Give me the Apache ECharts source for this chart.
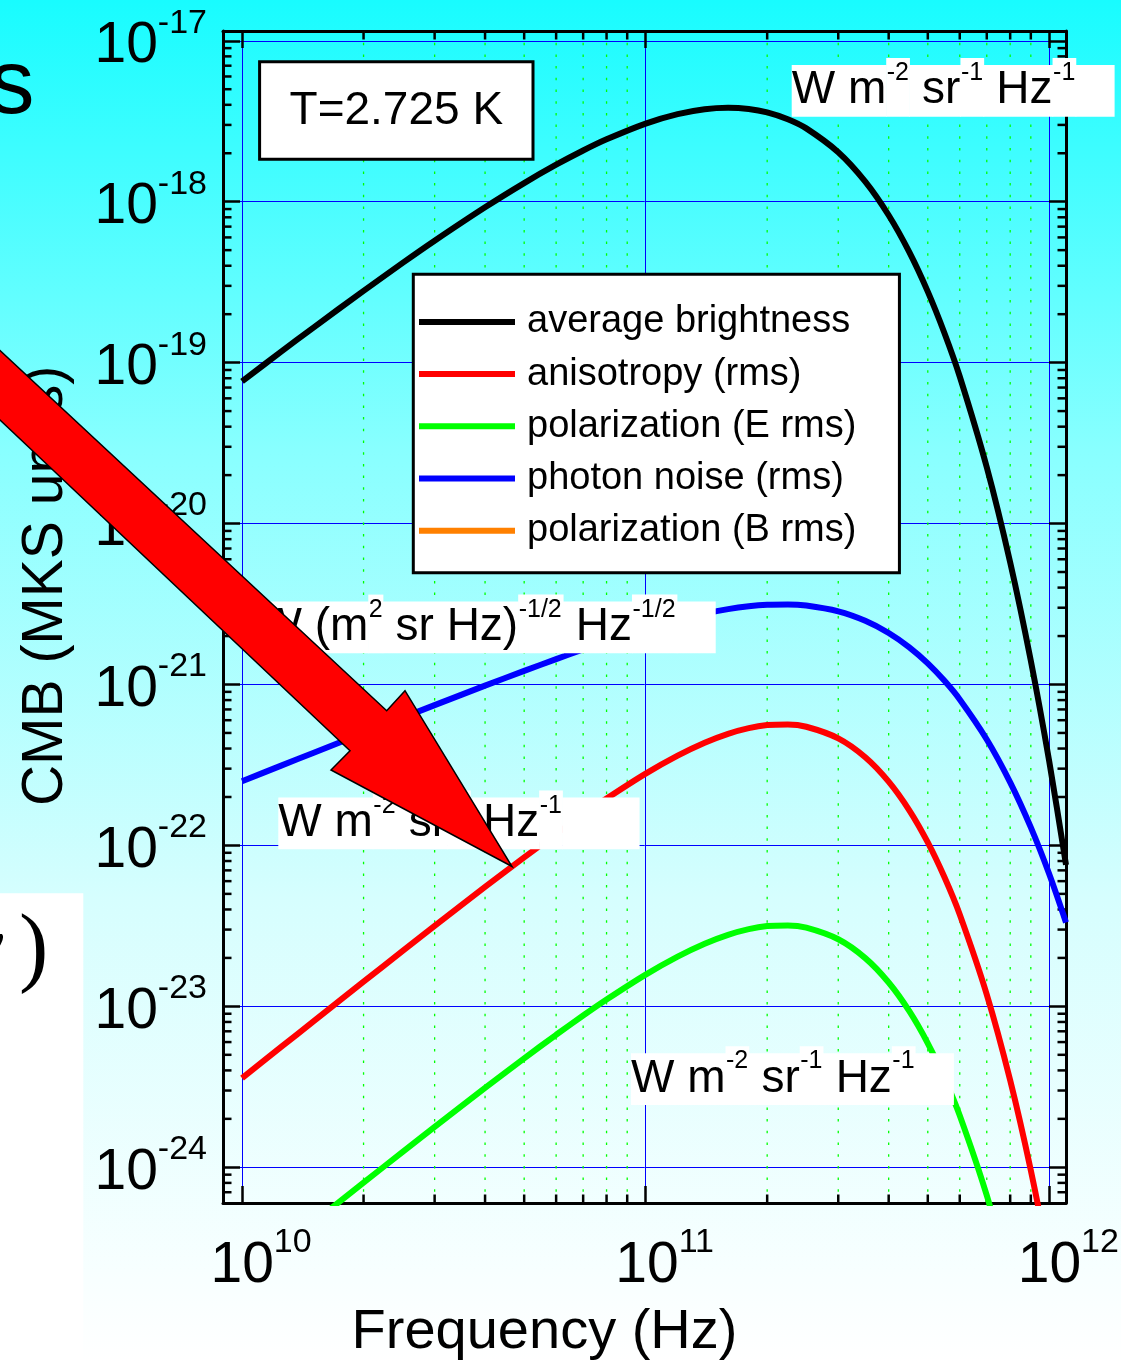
<!DOCTYPE html>
<html>
<head>
<meta charset="utf-8">
<script src="https://cdn.jsdelivr.net/npm/echarts@6/dist/echarts.min.js"></script>
<style>
html,body{margin:0;padding:0;}
#c{width:1121px;height:1362px;background:linear-gradient(to bottom, rgb(24,252,255) 0%, rgb(136,255,255) 33%, rgb(214,254,254) 66%, rgb(248,255,255) 94%, #ffffff 100%);}
</style>
</head>
<body>
<div id="c"></div>
<script>
// ---------------- data ----------------
const frequencyHz = [1e10, 1.25e10, 1.5e10, 2e10, 2.5e10, 3e10, 4e10, 5e10, 6e10, 7e10, 8e10,
  1e11, 1.2e11, 1.4e11, 1.6e11, 1.8e11, 2e11, 2.25e11, 2.5e11, 3e11, 3.5e11, 4e11, 4.5e11,
  5e11, 5.5e11, 6e11, 7e11, 8e11, 9e11, 1e12, 1.1e12];

const averageBrightness = [7.657e-20, 1.1694e-19, 1.6458e-19, 2.7937e-19, 4.1648e-19, 5.7189e-19,
  9.2263e-19, 1.3049e-18, 1.6968e-18, 2.0804e-18, 2.4420e-18, 3.0593e-18, 3.5013e-18, 3.7562e-18,
  3.8366e-18, 3.7697e-18, 3.5891e-18, 3.2550e-18, 2.8550e-18, 2.0304e-18, 1.3325e-18, 8.2354e-19,
  4.8582e-19, 2.7620e-19, 1.5238e-19, 8.2003e-20, 2.2376e-20, 5.7396e-21, 1.4043e-21, 3.3101e-22, 7.5708e-23];

const anisotropyRms = [3.586e-24, 5.594e-24, 8.041e-24, 1.4232e-23, 2.2107e-23, 3.1610e-23,
  5.5194e-23, 8.4271e-23, 1.1801e-22, 1.5542e-22, 1.9551e-22, 2.7935e-22, 3.6138e-22, 4.3463e-22,
  4.9368e-22, 5.3561e-22, 5.5933e-22, 5.6456e-22, 5.4644e-22, 4.6296e-22, 3.5343e-22, 2.4932e-22,
  1.6538e-22, 1.0444e-22, 6.3379e-23, 3.7208e-23, 1.1845e-23, 3.4722e-24, 9.557e-25, 2.503e-25, 6.298e-26];

const polarizationERms = [2.023e-25, 3.156e-25, 4.536e-25, 8.028e-25, 1.2471e-24, 1.7831e-24,
  3.1135e-24, 4.7537e-24, 6.6568e-24, 8.7674e-24, 1.1029e-23, 1.5758e-23, 2.0386e-23, 2.4518e-23,
  2.7849e-23, 3.0214e-23, 3.1552e-23, 3.1847e-23, 3.0825e-23, 2.6116e-23, 1.9937e-23, 1.4064e-23,
  9.3293e-24, 5.8917e-24, 3.5752e-24, 2.0989e-24, 6.6815e-25, 1.9587e-25, 5.391e-26, 1.420e-26, 3.55e-27];

const photonNoiseRms = [2.5069e-22, 3.1310e-22, 3.7538e-22, 4.9941e-22, 6.2243e-22, 7.4429e-22,
  9.8349e-22, 1.2153e-21, 1.4381e-21, 1.6504e-21, 1.8510e-21, 2.2126e-21, 2.5166e-21, 2.7599e-21,
  2.9414e-21, 3.0637e-21, 3.1308e-21, 3.1454e-21, 3.0945e-21, 2.8484e-21, 2.4887e-21, 2.0903e-21,
  1.7024e-21, 1.3529e-21, 1.0539e-21, 8.0749e-22, 4.5560e-22, 2.4668e-22, 1.2942e-22, 6.6231e-23, 3.3221e-23];

// B-mode curve lies entirely below the visible range (not visible in the picture)
const polarizationBRms = [2.44e-27, 3.80e-27, 5.47e-27, 9.68e-27, 1.50e-26, 2.15e-26, 3.75e-26,
  5.73e-26, 8.02e-26, 1.057e-25, 1.329e-25, 1.900e-25, 2.457e-25, 2.955e-25, 3.357e-25, 3.642e-25,
  3.803e-25, 3.839e-25, 3.716e-25, 3.148e-25, 2.403e-25, 1.695e-25, 1.125e-25, 7.10e-26, 4.31e-26,
  2.53e-26, 8.05e-27, 2.36e-27, 6.5e-28, 1.7e-28, 4.3e-29];

const seriesNames = ['average brightness', 'anisotropy (rms)', 'polarization (E rms)',
  'photon noise (rms)', 'polarization (B rms)'];
const seriesColors = ['#000000', '#ff0000', '#00ff00', '#0000ff', '#ff8000'];

const xTickExponents = ['10', '11', '12'];
const yTickExponents = ['-24', '-23', '-22', '-21', '-20', '-19', '-18', '-17'];
const minorMultipliers = [2, 3, 4, 5, 6, 7, 8, 9];
const xMinorDecades = [10, 11];
const yMinorDecades = [-25, -24, -23, -22, -21, -20, -19, -18];

const X_MIN = 8.97e9, X_MAX = 1.1e12;
const Y_MIN = 6e-25, Y_MAX = 1.15e-17;

// ---------------- helpers ----------------
const FONT = '"Liberation Sans", Arial, Helvetica, sans-serif';
const mctx = document.createElement('canvas').getContext('2d');
function textWidth(t, size) { mctx.font = size + 'px ' + FONT; return mctx.measureText(t).width; }
const MID = 0.3465;

function decadeExp(v, list) {
  const l = Math.log10(v);
  const e = Math.round(l);
  if (Math.abs(l - e) > 1e-6) return null;
  const s = String(e);
  return list.indexOf(s) >= 0 ? s : null;
}

const xMinorValues = [];
xMinorDecades.forEach(d => minorMultipliers.forEach(m => xMinorValues.push(m * Math.pow(10, d))));
const yMinorValues = [];
yMinorDecades.forEach(d => minorMultipliers.forEach(m => {
  const v = m * Math.pow(10, d);
  if (v > Y_MIN * 1.001 && v < Y_MAX) yMinorValues.push(v);
}));

function unitLabel(x0, base, segs) {
  const els = [];
  let x = x0;
  segs.forEach(([t, sup]) => {
    const fs = sup ? 26 : 46;
    const w = textWidth(t, fs);
    const top = sup ? base - 48.7 : base - 41.7;
    els.push({type: 'rect', z: 10, silent: true,
      shape: {x: x, y: top, width: w + 0.6, height: base + 10 - top},
      style: {fill: '#ffffff', lineWidth: 0}});
    if (t.trim()) {
      const dfs = sup ? 25 : 46;
      const bl = sup ? base - 25 : base;
      els.push({type: 'text', z: 11, silent: true, x: x + (sup ? 0.5 : 0), y: bl - MID * dfs,
        style: {text: t, font: dfs + 'px ' + FONT, fill: '#000', textAlign: 'left', align: 'left',
          textVerticalAlign: 'middle', verticalAlign: 'middle'}});
    }
    x += w;
  });
  return els;
}

const pairs = arr => frequencyHz.map((f, i) => [f, arr[i]]);
const seriesData = [averageBrightness, anisotropyRms, polarizationERms, photonNoiseRms, polarizationBRms];

const lineSeries = seriesNames.map((name, i) => ({
  name: name, type: 'line', data: pairs(seriesData[i]), symbol: 'none', showSymbol: false,
  smooth: 0.3, clip: true, silent: true, z: 3,
  lineStyle: {color: seriesColors[i], width: 6},
  itemStyle: {color: seriesColors[i]}
}));

const tickStyle = {color: '#000', width: 2.5};
const axisLineStyle = {show: true, onZero: false, lineStyle: {color: '#000', width: 3}};

const xRich = {
  p: {width: 38, fontSize: 34, fontFamily: FONT},
  b: {fontSize: 57, lineHeight: 69, verticalAlign: 'bottom', color: '#000', fontFamily: FONT},
  s: {fontSize: 34, lineHeight: 34, verticalAlign: 'top', color: '#000', fontFamily: FONT}
};
const yRich = {
  b: {fontSize: 57, lineHeight: 69, verticalAlign: 'bottom', color: '#000', fontFamily: FONT},
  s: {fontSize: 34, lineHeight: 34, verticalAlign: 'top', color: '#000', fontFamily: FONT}
};

const graphicEls = [];
// white block bottom-left (part of the slide)
graphicEls.push({type: 'rect', z: 0, silent: true, shape: {x: 0, y: 893.3, width: 83.3, height: 470}, style: {fill: '#ffffff'}});
// slide fragments at the left
graphicEls.push({type: 'text', z: 1, silent: true, x: -11, y: 119 - MID * 91,
  style: {text: 's', font: '91px ' + FONT, fill: '#000', textAlign: 'left', align: 'left', textVerticalAlign: 'middle', verticalAlign: 'middle'}});
graphicEls.push({type: 'text', z: 1, silent: true, x: -36, y: 952,
  style: {text: 'ν', font: 'italic 88px "Liberation Serif", "DejaVu Serif", serif', fill: '#000', textAlign: 'left', align: 'left', textVerticalAlign: 'middle', verticalAlign: 'middle'}});
graphicEls.push({type: 'text', z: 1, silent: true, x: 19, y: 952,
  style: {text: ')', font: '88px "Liberation Serif", "DejaVu Serif", serif', fill: '#000', textAlign: 'left', align: 'left', textVerticalAlign: 'middle', verticalAlign: 'middle'}});
// temperature box
graphicEls.push({type: 'rect', z: 10, silent: true, shape: {x: 259.6, y: 61.7, width: 273.4, height: 97.6},
  style: {fill: '#ffffff', stroke: '#000', lineWidth: 3}});
graphicEls.push({type: 'text', z: 11, silent: true, x: 396.3, y: 111,
  style: {text: 'T=2.725 K', font: '46px ' + FONT, fill: '#000', textAlign: 'center', align: 'center', textVerticalAlign: 'middle', verticalAlign: 'middle'}});
// unit labels
graphicEls.push(...unitLabel(791.7, 106.7, [['W m', 0], ['-2', 1], [' sr', 0], ['-1', 1], [' Hz', 0], ['-1', 1], ['   ', 0]]));
graphicEls.push(...unitLabel(368.3 - textWidth('W (m', 46), 643.3, [['W (m', 0], ['2', 1], [' sr Hz)', 0], ['-1/2', 1], [' Hz', 0], ['-1/2', 1], ['   ', 0]]));
graphicEls.push(...unitLabel(278.3, 839.3, [['W m', 0], ['-2', 1], [' sr', 0], ['-1', 1], [' Hz', 0], ['-1', 1], ['      ', 0]]));
graphicEls.push(...unitLabel(631, 1095, [['W m', 0], ['-2', 1], [' sr', 0], ['-1', 1], [' Hz', 0], ['-1', 1], ['   ', 0]]));
// red arrow
graphicEls.push({type: 'polygon', z: 30, silent: true,
  shape: {points: [[-10, 341.2], [386.7, 710.7], [405, 690.7], [512, 866.5], [331, 770], [350, 750.7], [-10, 410.6]]},
  style: {fill: '#ff0000', stroke: '#000', lineWidth: 1.5, lineJoin: 'miter'}});

const option = {
  animation: false,
  backgroundColor: 'transparent',
  grid: {left: 223, top: 31, right: 1121 - 1066, bottom: 1362 - 1203, containLabel: false, outerBoundsMode: 'none'},
  legend: {
    data: seriesNames, orient: 'vertical', left: 413.3, top: 274.3,
    padding: [27.6, 43, 22, 5.7], itemWidth: 96, itemHeight: 6, itemGap: 12.2, icon: 'rect',
    backgroundColor: '#ffffff', borderColor: '#000', borderWidth: 3, borderRadius: 0,
    selectedMode: false,
    textStyle: {fontSize: 38, color: '#000', fontFamily: FONT, lineHeight: 40, padding: [0, 0, 0, 7]}
  },
  xAxis: [
    {type: 'log', logBase: 10, min: X_MIN, max: X_MAX, position: 'bottom',
      name: 'Frequency (Hz)', nameLocation: 'middle', nameGap: 102, nameMoveOverlap: false,
      nameTextStyle: {fontSize: 56, color: '#000', fontFamily: FONT, padding: [0, 200, 0, 0]},
      axisLine: axisLineStyle,
      axisTick: {show: true, inside: true, length: 17, lineStyle: tickStyle},
      axisLabel: {show: true, margin: 23, hideOverlap: false, rich: xRich,
        formatter: v => { const e = decadeExp(v, xTickExponents); return e ? '{p| }{b|10}{s|' + e + '}' : ''; }},
      splitLine: {show: true, showMinLine: false, showMaxLine: false, lineStyle: {color: '#0000ff', width: 1}},
      minorTick: {show: false}, minorSplitLine: {show: false}},
    {type: 'log', logBase: 10, min: X_MIN, max: X_MAX, position: 'top',
      axisLine: axisLineStyle,
      axisTick: {show: true, inside: true, length: 17, lineStyle: tickStyle},
      axisLabel: {show: false}, splitLine: {show: false}}
  ],
  yAxis: [
    {type: 'log', logBase: 10, min: Y_MIN, max: Y_MAX, position: 'left',
      name: 'CMB (MKS units)', nameLocation: 'middle', nameGap: 148, nameRotate: 90, nameMoveOverlap: false,
      nameTextStyle: {fontSize: 57, color: '#000', fontFamily: FONT, padding: [0, 0, 0, 62]},
      axisLine: axisLineStyle,
      axisTick: {show: true, inside: true, length: 17, lineStyle: tickStyle},
      axisLabel: {show: true, margin: 16, hideOverlap: false, rich: yRich,
        formatter: v => { const e = decadeExp(v, yTickExponents); return e ? '{b|10}{s|' + e + '}' : ''; }},
      splitLine: {show: true, showMinLine: false, showMaxLine: false, lineStyle: {color: '#0000ff', width: 1}},
      minorTick: {show: false}, minorSplitLine: {show: false}},
    {type: 'log', logBase: 10, min: Y_MIN, max: Y_MAX, position: 'right',
      axisLine: axisLineStyle,
      axisTick: {show: true, inside: true, length: 17, lineStyle: tickStyle},
      axisLabel: {show: false}, splitLine: {show: false}}
  ],
  series: [
    {type: 'custom', name: 'x minor', silent: true, z: 1, clip: false,
      data: xMinorValues.map(v => [v, 1e-20]),
      renderItem: (params, api) => {
        const cs = params.coordSys;
        const x = api.coord([api.value(0), api.value(1)])[0];
        const top = cs.y, bot = cs.y + cs.height;
        return {type: 'group', children: [
          {type: 'line', shape: {x1: x, y1: top, x2: x, y2: bot}, style: {stroke: '#00ff00', lineWidth: 1.3, lineDash: [2.5, 9.2]}},
          {type: 'line', shape: {x1: x, y1: bot, x2: x, y2: bot - 8.5}, style: {stroke: '#000', lineWidth: 2.5}},
          {type: 'line', shape: {x1: x, y1: top, x2: x, y2: top + 8.5}, style: {stroke: '#000', lineWidth: 2.5}}
        ]};
      }},
    {type: 'custom', name: 'y minor', silent: true, z: 1, clip: false,
      data: yMinorValues.map(v => [1e11, v]),
      renderItem: (params, api) => {
        const cs = params.coordSys;
        const y = api.coord([api.value(0), api.value(1)])[1];
        const l = cs.x, r = cs.x + cs.width;
        return {type: 'group', children: [
          {type: 'line', shape: {x1: l, y1: y, x2: l + 8.5, y2: y}, style: {stroke: '#000', lineWidth: 2.5}},
          {type: 'line', shape: {x1: r, y1: y, x2: r - 8.5, y2: y}, style: {stroke: '#000', lineWidth: 2.5}}
        ]};
      }},
    ...lineSeries
  ],
  graphic: {elements: graphicEls}
};

const chart = echarts.init(document.getElementById('c'), null, {renderer: 'canvas'});
chart.setOption(option);
</script>
</body>
</html>
